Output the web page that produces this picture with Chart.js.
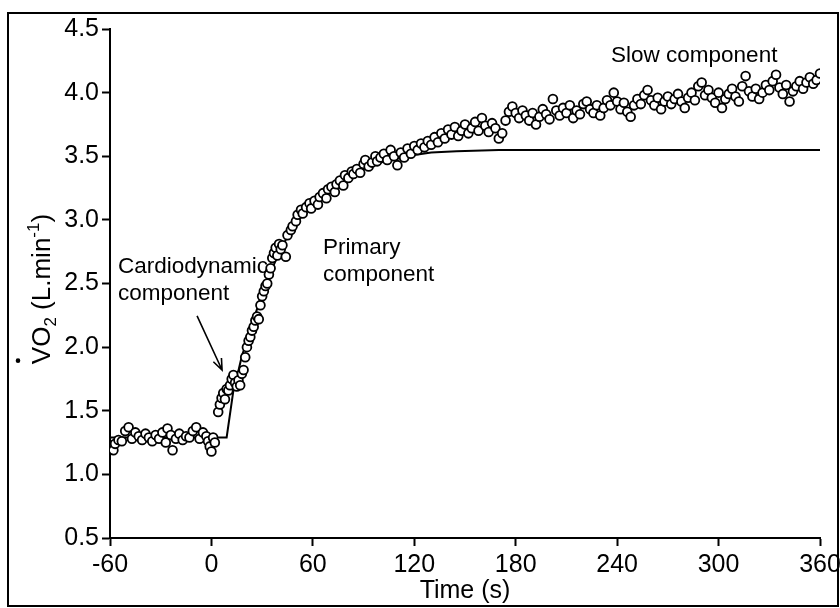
<!DOCTYPE html>
<html>
<head>
<meta charset="utf-8">
<title>VO2 kinetics</title>
<script src="https://cdn.jsdelivr.net/npm/chart.js@4/dist/chart.umd.min.js"></script>
<style>
  html, body { margin: 0; padding: 0; background: #fff; }
  canvas { display: block; }
</style>
</head>
<body>
<canvas id="vo2-chart" width="840" height="608"></canvas>
<script>
(function() {
    'use strict';

    // Tick labels
    var xTickValues = [-60, 0, 60, 120, 180, 240, 300, 360];
    var yTickValues = [0.5, 1.0, 1.5, 2.0, 2.5, 3.0, 3.5, 4.0, 4.5];

    // Breath-by-breath VO2 (time s, L/min)
    var baselineData = [
        [-60, 1.21], [-58, 1.19], [-57, 1.24], [-55, 1.27], [-53, 1.26], [-51, 1.34], [-49, 1.37],
        [-47, 1.28], [-45, 1.33], [-43, 1.30], [-41, 1.27], [-39, 1.32], [-37, 1.29], [-35, 1.26],
        [-33, 1.31], [-31, 1.28], [-29, 1.33], [-27, 1.25], [-26, 1.36], [-24, 1.31], [-23, 1.19],
        [-21, 1.28], [-19, 1.32], [-17, 1.27], [-15, 1.30], [-13, 1.29], [-11, 1.34], [-9, 1.37],
        [-7, 1.28], [-5, 1.33], [-3, 1.30], [-2, 1.26], [-1, 1.22], [0, 1.18], [1, 1.29], [2, 1.25]
    ];
    var onsetData = [
        [4, 1.49], [5, 1.55], [6, 1.60], [7, 1.64], [8, 1.59], [9, 1.67], [10, 1.66], [11, 1.70],
        [12, 1.75], [13, 1.78], [14, 1.72], [15, 1.69], [16, 1.74], [17, 1.70], [18, 1.79], [19, 1.82],
        [20, 1.92], [21, 2.00], [22, 2.05], [23, 2.08], [24, 2.13], [25, 2.16], [26, 2.21], [27, 2.24],
        [28, 2.22], [29, 2.33], [30, 2.40], [31, 2.44], [32, 2.48], [33, 2.50], [34, 2.57], [35, 2.62],
        [36, 2.70], [37, 2.74], [38, 2.78], [39, 2.72], [40, 2.81], [41, 2.77], [42, 2.80]
    ];
    var primaryData = [
        [44, 2.71], [45, 2.88], [47, 2.92], [48, 2.95], [50, 2.99], [51, 3.04], [53, 3.08], [54, 3.05],
        [56, 3.10], [58, 3.13], [59, 3.09], [61, 3.15], [63, 3.12], [64, 3.18], [66, 3.21], [68, 3.17],
        [69, 3.24], [71, 3.26], [73, 3.22], [74, 3.28], [76, 3.31], [78, 3.27], [79, 3.35], [81, 3.33],
        [83, 3.38], [84, 3.36], [86, 3.40], [88, 3.37], [90, 3.44], [91, 3.47], [93, 3.42], [95, 3.45],
        [97, 3.50], [98, 3.46], [100, 3.49], [102, 3.52], [104, 3.47], [106, 3.55], [108, 3.50],
        [110, 3.43], [112, 3.53], [114, 3.49], [116, 3.56], [118, 3.52], [120, 3.58], [122, 3.55],
        [124, 3.60], [126, 3.57], [128, 3.62], [130, 3.59], [132, 3.65], [134, 3.61], [136, 3.68],
        [138, 3.64], [140, 3.71], [142, 3.67], [144, 3.73], [146, 3.66], [148, 3.70], [150, 3.75],
        [152, 3.68], [154, 3.72], [156, 3.77], [158, 3.70], [160, 3.80], [162, 3.74], [164, 3.69],
        [166, 3.76], [168, 3.72], [170, 3.64], [172, 3.68], [174, 3.78], [176, 3.85], [178, 3.89],
        [180, 3.84]
    ];
    var slowData = [
        [182, 3.80], [184, 3.86], [186, 3.82], [188, 3.78], [190, 3.84], [192, 3.75], [194, 3.81],
        [196, 3.87], [198, 3.83], [200, 3.79], [202, 3.95], [204, 3.86], [206, 3.82], [208, 3.88],
        [210, 3.84], [212, 3.90], [214, 3.80], [216, 3.86], [218, 3.83], [220, 3.91], [222, 3.93],
        [224, 3.87], [226, 3.84], [228, 3.90], [230, 3.82], [232, 3.88], [234, 3.94], [236, 3.90],
        [238, 4.00], [240, 3.93], [242, 3.87], [244, 3.92], [246, 3.85], [248, 3.81], [250, 3.90],
        [252, 3.95], [254, 3.91], [256, 3.98], [258, 4.02], [260, 3.94], [262, 3.90], [264, 3.96],
        [266, 3.87], [268, 3.93], [270, 3.97], [272, 3.91], [274, 3.95], [276, 3.99], [278, 3.93],
        [280, 3.88], [282, 3.96], [284, 4.00], [286, 3.94], [288, 4.05], [290, 4.08], [292, 3.98],
        [294, 4.02], [296, 3.96], [298, 3.92], [300, 4.00], [302, 3.88], [304, 3.95], [306, 3.99],
        [308, 4.03], [310, 3.97], [312, 3.93], [314, 4.05], [316, 4.13], [318, 4.01], [320, 3.97],
        [322, 4.03], [324, 3.95], [326, 4.00], [328, 4.06], [330, 4.02], [332, 4.09], [334, 4.14],
        [336, 4.04], [338, 3.99], [340, 4.06], [342, 3.93], [344, 4.01], [346, 4.05], [348, 4.09],
        [350, 4.03], [352, 4.08], [354, 4.12], [356, 4.07], [358, 4.10], [360, 4.15]
    ];

    // Model fit line (time s, L/min)
    var fitTimes  = [-60, 9, 13, 15, 18, 21, 25, 30, 35, 40, 45, 50, 55, 60, 70, 80, 90, 100, 110, 120, 130, 145, 170, 360];
    var fitValues = [1.29, 1.29, 1.66, 1.76, 1.93, 2.05, 2.22, 2.42, 2.59, 2.74, 2.87, 2.97, 3.06, 3.13, 3.25, 3.33, 3.40, 3.45, 3.48, 3.51, 3.53, 3.54, 3.55, 3.55];

    var FONT = '"Liberation Sans", Arial, Helvetica, sans-serif';

    function toPoints(pairs) {
        return pairs.map(function(p) { return { x: p[0], y: p[1] }; });
    }

    /**
     * Text notes placed in data space, with an arrow.
     */
    var notes = [
        { lines: ['Cardiodynamic', 'component'], t: -55.3, v: 2.58 },
        { lines: ['Primary', 'component'], t: 66, v: 2.73 },
        { lines: ['Slow component'], t: 236.4, v: 4.24 }
    ];
    var arrow = { from: [-8.5, 2.245], to: [6.3, 1.82] };

    function drawYTitle(ctx, cx, cy) {
        var big = '26px ' + FONT, small = '17px ' + FONT;
        var parts = [
            { t: 'V', f: big, dy: 0 },
            { t: 'O', f: big, dy: 0 },
            { t: '2', f: small, dy: 6 },
            { t: ' (L.min', f: big, dy: 0 },
            { t: '-1', f: small, dy: -11 },
            { t: ')', f: big, dy: 0 }
        ];
        var total = 0;
        parts.forEach(function(p) {
            ctx.font = p.f;
            p.w = ctx.measureText(p.t).width;
            total += p.w;
        });
        ctx.save();
        ctx.translate(cx, cy);
        ctx.rotate(-Math.PI / 2);
        ctx.fillStyle = '#000';
        ctx.textBaseline = 'alphabetic';
        var pos = -total / 2;
        parts.forEach(function(p) {
            ctx.font = p.f;
            ctx.fillText(p.t, pos, p.dy);
            pos += p.w;
        });
        // dot over the V
        ctx.beginPath();
        ctx.arc(-total / 2 + parts[0].w * 0.2, -32, 2.3, 0, Math.PI * 2);
        ctx.fill();
        ctx.restore();
    }

    var decorations = {
        id: 'decorations',
        beforeDraw: function(chart) {
            var ctx = chart.ctx;
            ctx.save();
            ctx.fillStyle = '#fff';
            ctx.fillRect(0, 0, chart.width, chart.height);
            ctx.restore();
        },
        afterDraw: function(chart) {
            var ctx = chart.ctx;
            var xs = chart.scales.x, ys = chart.scales.y;
            ctx.save();

            // outer frame
            ctx.strokeStyle = '#000';
            ctx.lineWidth = 2;
            ctx.strokeRect(8, 13, 830, 593);

            // notes
            ctx.fillStyle = '#000';
            ctx.font = '22.5px ' + FONT;
            ctx.textBaseline = 'alphabetic';
            ctx.textAlign = 'left';
            notes.forEach(function(n) {
                var px = xs.getPixelForValue(n.t);
                var py = ys.getPixelForValue(n.v);
                n.lines.forEach(function(line, i) {
                    ctx.fillText(line, px, py + i * 27);
                });
            });

            // arrow
            var x0 = xs.getPixelForValue(arrow.from[0]), y0 = ys.getPixelForValue(arrow.from[1]);
            var x1 = xs.getPixelForValue(arrow.to[0]), y1 = ys.getPixelForValue(arrow.to[1]);
            var ang = Math.atan2(y1 - y0, x1 - x0);
            ctx.lineWidth = 1.6;
            ctx.beginPath();
            ctx.moveTo(x0, y0);
            ctx.lineTo(x1, y1);
            ctx.moveTo(x1 - 12 * Math.cos(ang - 0.38), y1 - 12 * Math.sin(ang - 0.38));
            ctx.lineTo(x1, y1);
            ctx.lineTo(x1 - 12 * Math.cos(ang + 0.38), y1 - 12 * Math.sin(ang + 0.38));
            ctx.stroke();
            ctx.restore();

            drawYTitle(ctx, 50, 289);
        }
    };

    function initChart() {
        var ctx = document.getElementById('vo2-chart').getContext('2d');
        var observed = toPoints(baselineData.concat(onsetData, primaryData, slowData));
        var fit = fitTimes.map(function(t, i) { return { x: t, y: fitValues[i] }; });

        Chart.defaults.font.family = FONT;
        Chart.defaults.color = '#000';

        new Chart(ctx, {
            type: 'scatter',
            data: {
                datasets: [{
                    label: 'VO2',
                    data: observed,
                    pointRadius: 4.4,
                    pointBackgroundColor: '#fff',
                    pointBorderColor: '#000',
                    pointBorderWidth: 1.8,
                    order: 0
                }, {
                    type: 'line',
                    label: 'Fit',
                    data: fit,
                    borderColor: '#000',
                    borderWidth: 2,
                    pointRadius: 0,
                    tension: 0,
                    fill: false,
                    order: 1
                }]
            },
            options: {
                responsive: false,
                animation: false,
                devicePixelRatio: 1,
                layout: { padding: { top: 29, right: 20, left: 0, bottom: 0 } },
                plugins: {
                    legend: { display: false },
                    tooltip: { enabled: false }
                },
                scales: {
                    x: {
                        type: 'linear',
                        min: -60,
                        max: 360,
                        afterBuildTicks: function(scale) {
                            scale.ticks = xTickValues.map(function(v) { return { value: v }; });
                        },
                        afterFit: function(scale) {
                            scale.height = 70;
                            scale.paddingLeft = 0;
                            scale.paddingRight = 0;
                        },
                        ticks: {
                            color: '#000',
                            font: { size: 25 },
                            padding: 4,
                            maxRotation: 0,
                            autoSkip: false
                        },
                        grid: {
                            drawOnChartArea: false,
                            drawTicks: true,
                            tickLength: 8,
                            tickWidth: 2,
                            tickColor: '#000'
                        },
                        border: { display: true, color: '#000', width: 2 },
                        title: {
                            display: true,
                            text: 'Time (s)',
                            color: '#000',
                            font: { size: 25 },
                            padding: { top: 0, bottom: 2 }
                        }
                    },
                    y: {
                        type: 'linear',
                        min: 0.5,
                        max: 4.5,
                        afterBuildTicks: function(scale) {
                            scale.ticks = yTickValues.map(function(v) { return { value: v }; });
                        },
                        afterFit: function(scale) {
                            scale.width = 110;
                            scale.paddingTop = 0;
                            scale.paddingBottom = 0;
                        },
                        ticks: {
                            color: '#000',
                            font: { size: 25 },
                            padding: 3,
                            callback: function(v) { return Number(v).toFixed(1); }
                        },
                        grid: {
                            drawOnChartArea: false,
                            drawTicks: true,
                            tickLength: 8,
                            tickWidth: 2,
                            tickColor: '#000'
                        },
                        border: { display: true, color: '#000', width: 2 }
                    }
                }
            },
            plugins: [decorations]
        });
    }

    initChart();
})();
</script>
</body>
</html>
